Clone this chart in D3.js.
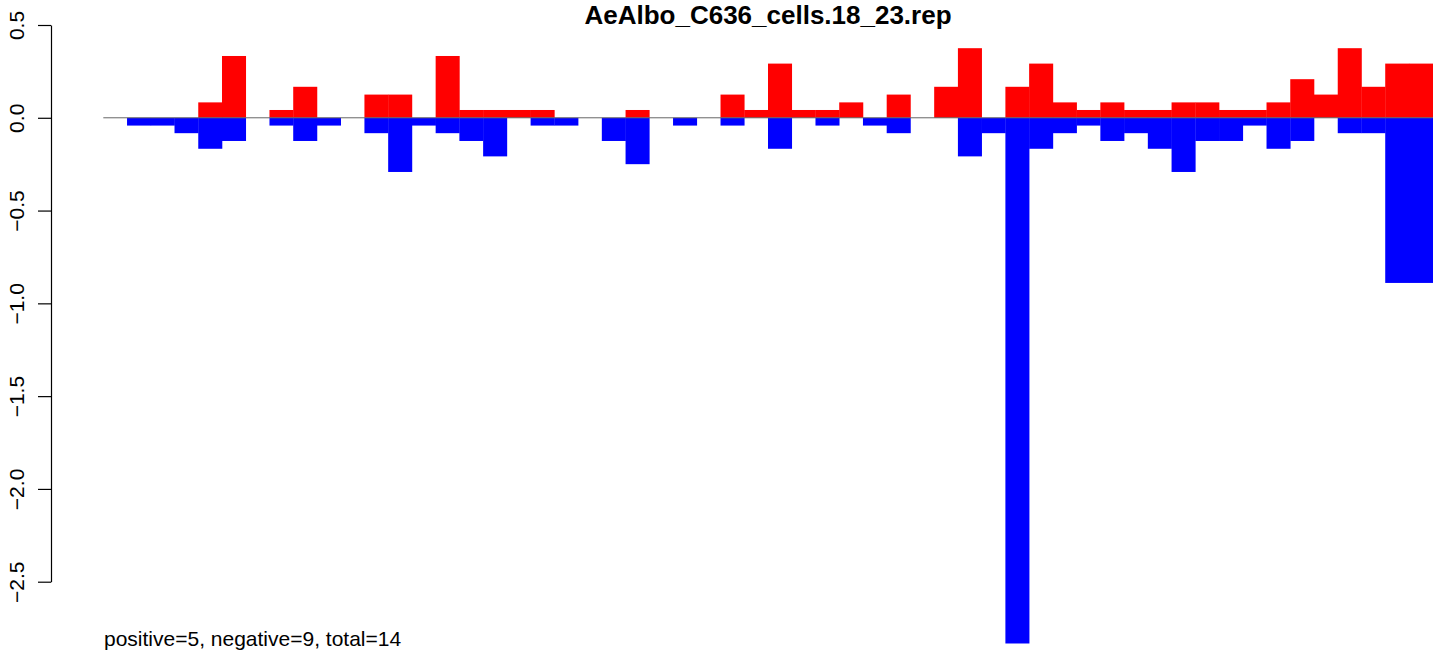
<!DOCTYPE html>
<html>
<head>
<meta charset="utf-8">
<script src="https://cdn.jsdelivr.net/npm/d3@7"></script>
<style>
  html, body { margin: 0; padding: 0; background: #fff; }
  svg { display: block; }
  text { font-family: "Liberation Sans", Arial, sans-serif; }
</style>
</head>
<body>
<svg id="chart" width="1444" height="656"></svg>
<script>
const title = "AeAlbo_C636_cells.18_23.rep";
const footer = "positive=5, negative=9, total=14";
const tickValues = [0.5, 0.0, -0.5, -1.0, -1.5, -2.0, -2.5];

// positive (red) values per bin
const positive = [
  0, 0, 0, 0, 0.083, 0.333, 0, 0.042, 0.167, 0,
  0, 0.125, 0.125, 0, 0.333, 0.042, 0.042, 0.042, 0.042, 0,
  0, 0, 0.042, 0, 0, 0, 0.125, 0.042, 0.292, 0.042,
  0.042, 0.083, 0, 0.125, 0, 0.167, 0.375, 0, 0.167, 0.292,
  0.083, 0.042, 0.083, 0.042, 0.042, 0.083, 0.083, 0.042, 0.042, 0.083,
  0.208, 0.125, 0.375, 0.167, 0.292, 0.292
];
// negative (blue) values per bin
const negative = [
  0, -0.042, -0.042, -0.083, -0.167, -0.125, 0, -0.042, -0.125, -0.042,
  0, -0.083, -0.292, -0.042, -0.083, -0.125, -0.208, 0, -0.042, -0.042,
  0, -0.125, -0.25, 0, -0.042, 0, -0.042, 0, -0.167, 0,
  -0.042, 0, -0.042, -0.083, 0, 0, -0.208, -0.083, -2.833, -0.167,
  -0.083, -0.042, -0.125, -0.083, -0.167, -0.292, -0.125, -0.125, -0.042, -0.167,
  -0.125, 0, -0.083, -0.083, -0.89, -0.89
];
const bins = positive.map((_, i) => i);

const svg = d3.select("#chart");

const x = d3.scaleBand().domain(bins).range([103.3, 1432.7]).padding(0);
const y = d3.scaleLinear().domain([-2.5, 0.5]).range([581.7, 25.0]);

// bars
svg.append("g").selectAll("rect.pos")
  .data(bins.filter(i => positive[i] !== 0))
  .join("rect")
  .attr("x", i => x(i))
  .attr("width", x.bandwidth() + 0.3)
  .attr("y", i => y(positive[i]))
  .attr("height", i => y(0) - y(positive[i]))
  .attr("fill", "#ff0000");

svg.append("g").selectAll("rect.neg")
  .data(bins.filter(i => negative[i] !== 0))
  .join("rect")
  .attr("x", i => x(i))
  .attr("width", x.bandwidth() + 0.3)
  .attr("y", y(0))
  .attr("height", i => y(negative[i]) - y(0))
  .attr("fill", "#0000ff");

// zero line
svg.append("line")
  .attr("x1", x.range()[0]).attr("x2", x.range()[1])
  .attr("y1", y(0)).attr("y2", y(0))
  .attr("stroke", "#666").attr("stroke-width", 1);

// y axis
const fmt = v => d3.format(".1f")(v).replace("-", "\u2212");
const axis = d3.axisLeft(y).tickValues(tickValues).tickFormat(fmt)
  .tickSize(13).tickSizeOuter(0);
const gA = svg.append("g").attr("transform", "translate(51,0)").call(axis);
gA.select(".domain").attr("stroke", "#000").attr("stroke-width", 1.2);
gA.selectAll(".tick line").attr("stroke", "#000").attr("stroke-width", 1.2);
gA.selectAll(".tick text")
  .attr("x", null).attr("dy", null)
  .attr("transform", "translate(-27.5,0) rotate(-90)")
  .attr("text-anchor", "middle")
  .attr("fill", "#000")
  .style("font-size", "21px")
  .style("font-family", "'Liberation Sans', Arial, sans-serif");

// title
svg.append("text")
  .attr("x", 768).attr("y", 23.5)
  .attr("text-anchor", "middle")
  .style("font-size", "26px").style("font-weight", "bold")
  .text(title);

// footer
svg.append("text")
  .attr("x", 104).attr("y", 646)
  .style("font-size", "21px")
  .text(footer);
</script>
</body>
</html>
